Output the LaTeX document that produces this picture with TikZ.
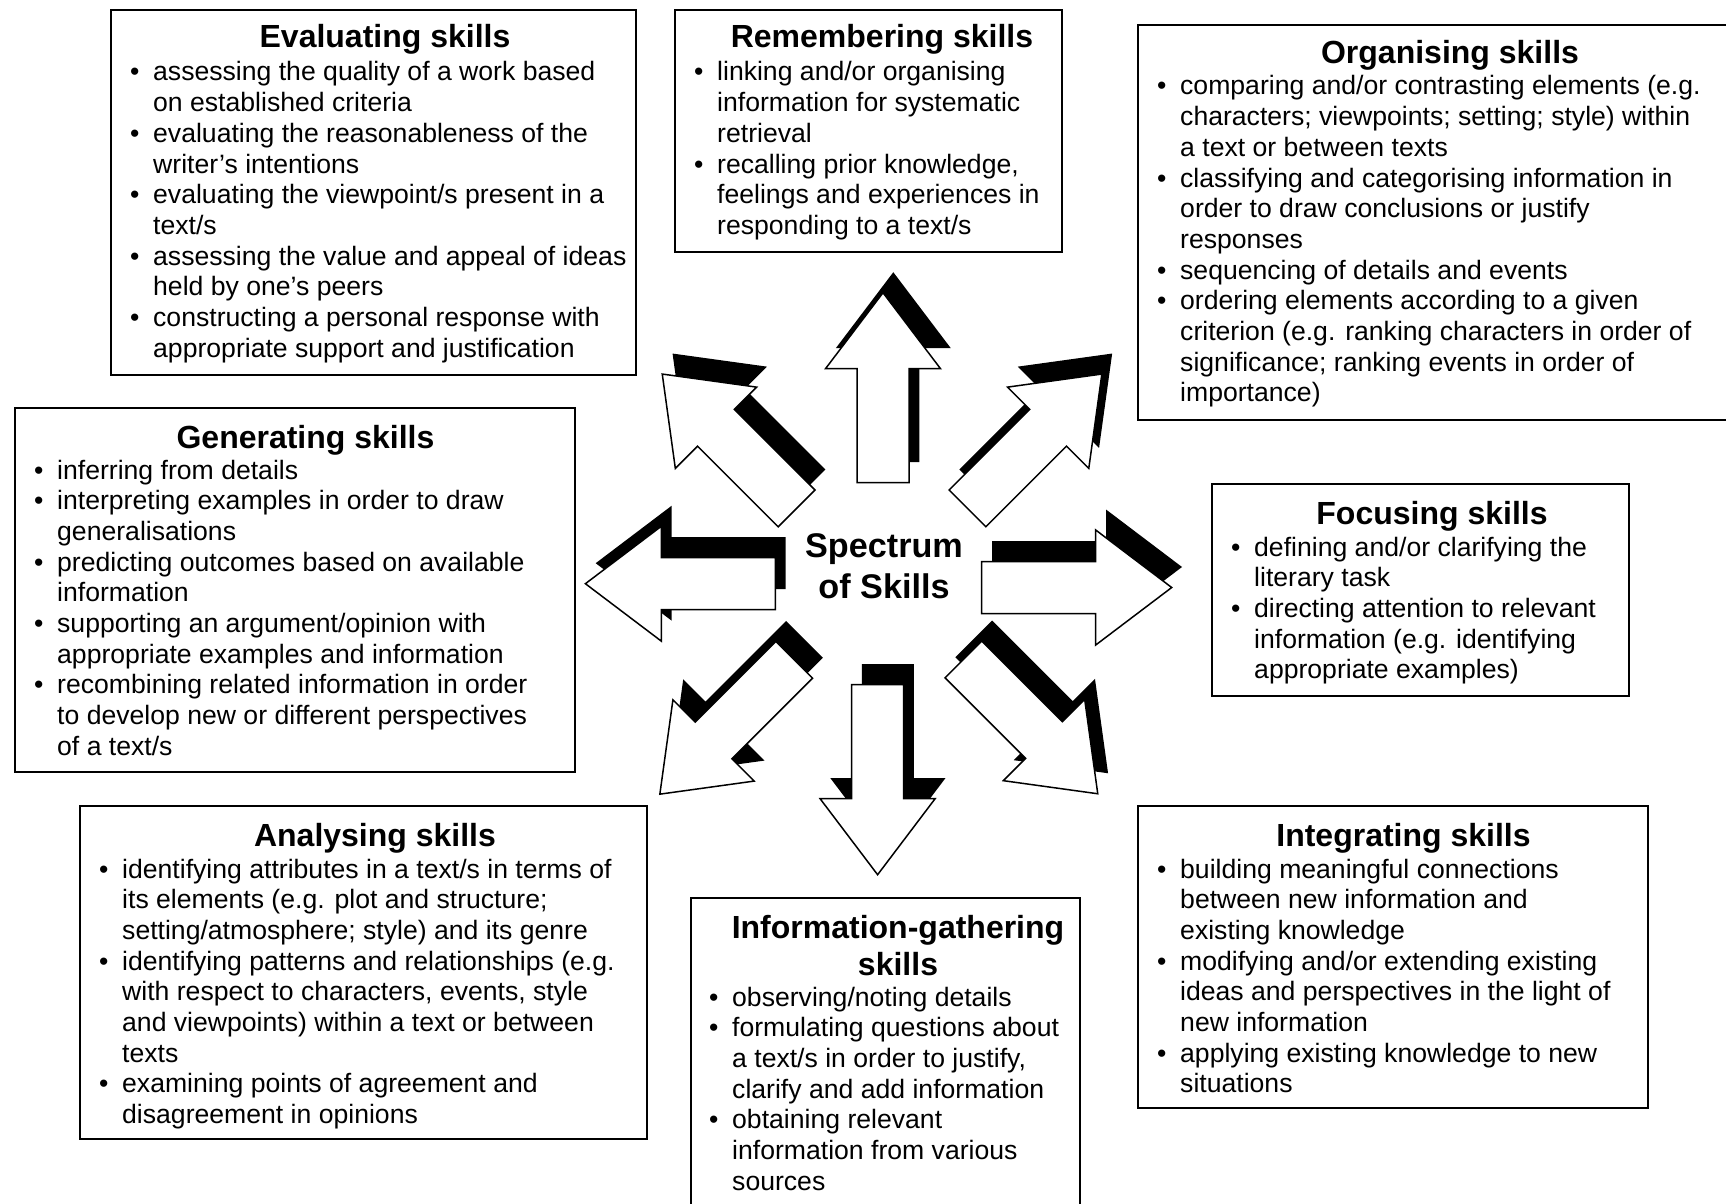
\documentclass[tikz,border=0pt]{standalone}
\usepackage{fontspec}
\setmainfont{Liberation Sans}
\newlength\bw \setlength\bw{23pt}
\newcommand\bitem[1]{\par\noindent\hangindent=\bw\hangafter=1\makebox[\bw][l]{\textbullet}#1}
\newcommand\bodytext[2]{\parbox[t]{#1}{\fontsize{26.6}{30.7}\selectfont\raggedright\let\\\newline #2}}
\newcommand\skillshadow[3]{%
  \begin{scope}[shift={(#1+10.3,#2-20.5)}, rotate=#3]
    \fill[black] (0,-26) -- (114,-26) -- (114,-57.5) -- (190,0) -- (114,57.5) -- (114,26) -- (0,26) -- cycle;
  \end{scope}}
\newcommand\skillarrow[3]{%
  \begin{scope}[shift={(#1,#2)}, rotate=#3]
    \filldraw[arrowbody] (0,-26) -- (114,-26) -- (114,-57.5) -- (190,0) -- (114,57.5) -- (114,26) -- (0,26) -- cycle;
  \end{scope}}
\begin{document}
\begin{tikzpicture}[x=1pt,y=-1pt,
  frame/.style={draw, line width=1.7pt, inner sep=0pt, anchor=north west},
  ttl/.style={font=\fontsize{32}{37.4}\selectfont\bfseries, anchor=base, inner sep=0pt},
  body/.style={anchor=base west, inner sep=0pt},
  hub/.style={anchor=base, inner sep=0pt},
  arrowbody/.style={fill=white, draw=black, line width=1.5pt, line join=miter}]
\useasboundingbox (0,0) rectangle (1726,1204);
\clip (0,0) rectangle (1726,1204);
\fill[white] (0,0) rectangle (1726,1204);

% ---------- boxes ----------
\node[frame, minimum width=525pt, minimum height=365pt] (evalbox) at (110,9) {};
\node[ttl] (evaltitle) at (385,48) {Evaluating skills};
\node[body] (evalbody) at (153-23,81) {\bodytext{520pt}{%
\bitem{assessing the quality of a work based\\on established criteria}
\bitem{evaluating the reasonableness of the\\writer’s intentions}
\bitem{evaluating the viewpoint/s present in a\\text/s}
\bitem{assessing the value and appeal of ideas\\held by one’s peers}
\bitem{constructing a personal response with\\appropriate support and justification}}};

\node[frame, minimum width=387pt, minimum height=242pt] (rembox) at (674,9) {};
\node[ttl] (remtitle) at (882,48) {Remembering skills};
\node[body] (rembody) at (717-23,81) {\bodytext{380pt}{%
\bitem{linking and/or organising\\information for systematic\\retrieval}
\bitem{recalling prior knowledge,\\feelings and experiences in\\responding to a text/s}}};

\node[frame, minimum width=620pt, minimum height=395pt] (orgbox) at (1137,24) {};
\node[ttl] (orgtitle) at (1450,64) {Organising skills};
\node[body] (orgbody) at (1180-23,95) {\bodytext{600pt}{%
\bitem{comparing and/or contrasting elements (e.g.\\characters; viewpoints; setting; style) within\\a text or between texts}
\bitem{classifying and categorising information in\\order to draw conclusions or justify\\responses}
\bitem{sequencing of details and events}
\bitem{ordering elements according to a given\\criterion (e.g. ranking characters in order of\\significance; ranking events in order of\\importance)}}};

\node[frame, minimum width=560pt, minimum height=364pt] (genbox) at (14,407) {};
\node[ttl] (gentitle) at (305.5,448) {Generating skills};
\node[body] (genbody) at (57-23,479) {\bodytext{550pt}{%
\bitem{inferring from details}
\bitem{interpreting examples in order to draw\\generalisations}
\bitem{predicting outcomes based on available\\information}
\bitem{supporting an argument/opinion with\\appropriate examples and information}
\bitem{recombining related information in order\\to develop new or different perspectives\\of a text/s}}};

\node[frame, minimum width=417pt, minimum height=212pt] (focbox) at (1211,483) {};
\node[ttl] (foctitle) at (1432,524) {Focusing skills};
\node[body] (focbody) at (1254-23,556) {\bodytext{400pt}{%
\bitem{defining and/or clarifying the\\literary task}
\bitem{directing attention to relevant\\information (e.g. identifying\\appropriate examples)}}};

\node[frame, minimum width=567pt, minimum height=333pt] (anabox) at (79,805) {};
\node[ttl] (anatitle) at (375,846) {Analysing skills};
\node[body] (anabody) at (122-23,878) {\bodytext{560pt}{%
\bitem{identifying attributes in a text/s in terms of\\its elements (e.g. plot and structure;\\setting/atmosphere; style) and its genre}
\bitem{identifying patterns and relationships (e.g.\\with respect to characters, events, style\\and viewpoints) within a text or between\\texts}
\bitem{examining points of agreement and\\disagreement in opinions}}};

\node[frame, minimum width=389pt, minimum height=340pt] (infbox) at (690,897) {};
\node[ttl] (inftitle) at (898,938) {\parbox[t]{380pt}{\centering Information-gathering\\skills}};
\node[body] (infbody) at (732-23,1006) {\bodytext{380pt}{%
\bitem{observing/noting details}
\bitem{formulating questions about\\a text/s in order to justify,\\clarify and add information}
\bitem{obtaining relevant\\information from various\\sources}}};

\node[frame, minimum width=510pt, minimum height=302pt] (intbox) at (1137,805) {};
\node[ttl] (inttitle) at (1403.5,846) {Integrating skills};
\node[body] (intbody) at (1180-23,878) {\bodytext{500pt}{%
\bitem{building meaningful connections\\between new information and\\existing knowledge}
\bitem{modifying and/or extending existing\\ideas and perspectives in the light of\\new information}
\bitem{applying existing knowledge to new\\situations}}};

% ---------- arrows ----------
\skillshadow{883}{482.7}{90}
\skillshadow{877.6}{684.7}{-90}
\skillshadow{775.4}{583.7}{180}
\skillshadow{981.7}{587.5}{0}
\skillshadow{796.6}{508.4}{135}
\skillshadow{967.5}{508.4}{45}
\skillshadow{794.2}{659.8}{225}
\skillshadow{963.4}{659.4}{-45}

\skillarrow{883}{482.7}{90}
\skillarrow{877.6}{684.7}{-90}
\skillarrow{775.4}{583.7}{180}
\skillarrow{981.7}{587.5}{0}
\skillarrow{796.6}{508.4}{135}
\skillarrow{967.5}{508.4}{45}
\skillarrow{794.2}{659.8}{225}
\skillarrow{963.4}{659.4}{-45}

\node[hub] (hub) at (884,557) {\parbox[t]{300pt}{\centering\fontsize{34.2}{41}\selectfont\bfseries Spectrum\\of Skills}};
\end{tikzpicture}
\end{document}
